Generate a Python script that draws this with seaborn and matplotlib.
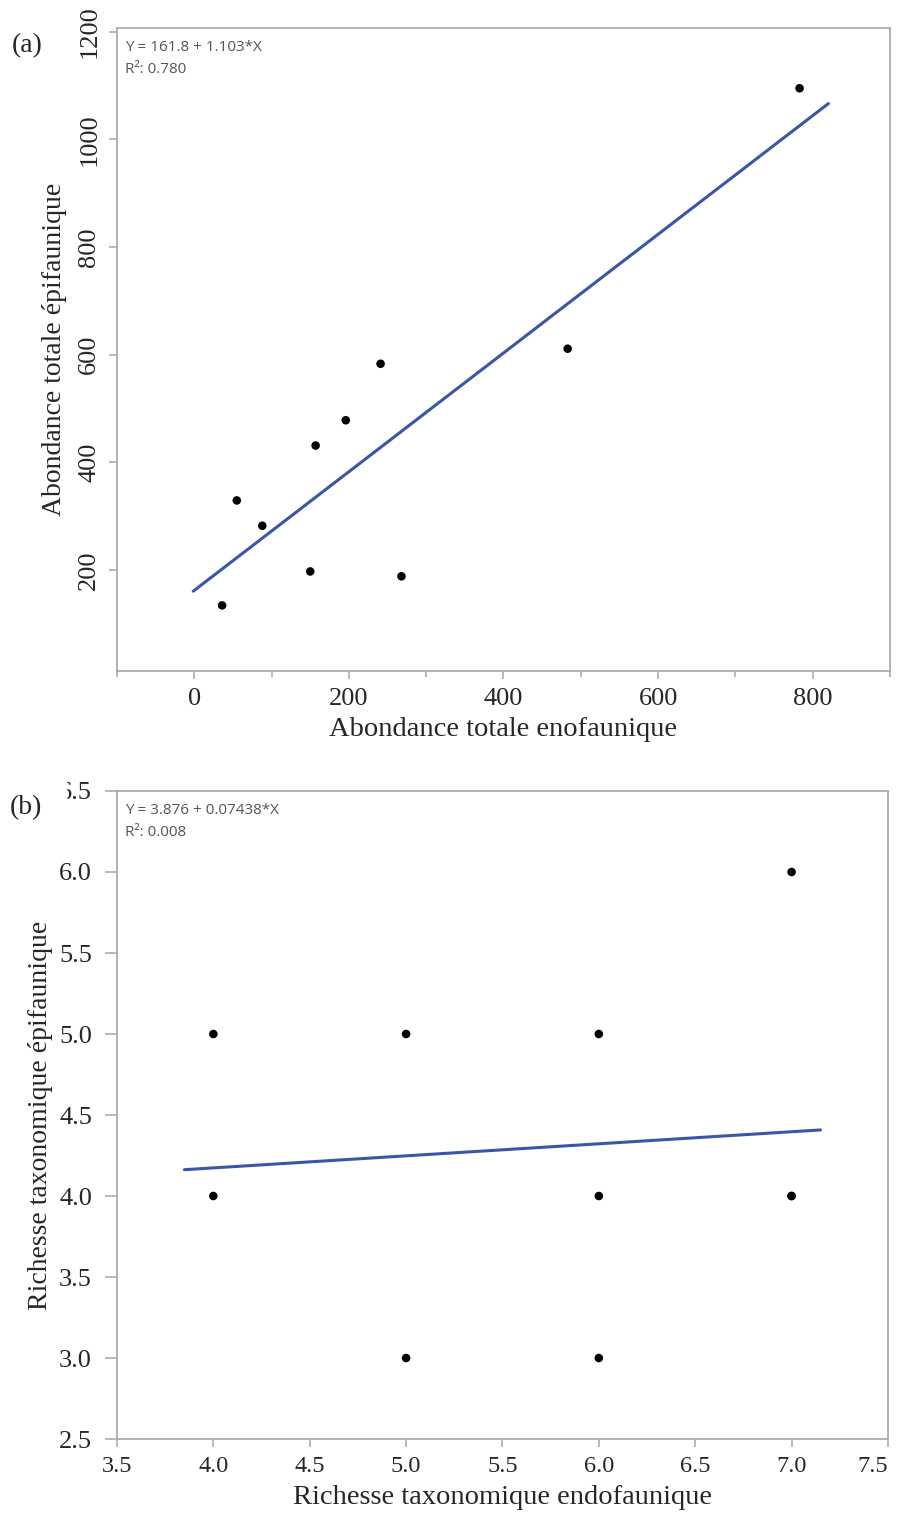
import numpy as np
import pandas as pd
import matplotlib
matplotlib.use("Agg")
import matplotlib.pyplot as plt
import seaborn as sns

# (a) abondance
abond_endo = [36, 55, 88, 150, 157, 196, 241, 268, 483, 783]
abond_epi = [134, 329, 282, 197, 431, 478, 583, 188, 611, 1095]

# (b) richesse (le point (7, 4) est double)
rich_endo = [4, 4, 5, 5, 6, 6, 6, 7, 7, 7]
rich_epi = [5, 4, 5, 3, 5, 4, 3, 6, 4, 4]

sns.set_style("white")
plt.rcParams['font.family'] = ['Liberation Serif', 'DejaVu Serif']

line_col = '#3857a5'
spine_col = '#a6a6a6'

fig = plt.figure(figsize=(8.97, 15.13), dpi=100)
ax1 = fig.add_axes([0.1304, 0.5565, 0.8618, 0.4250])
ax2 = fig.add_axes([0.1304, 0.0489, 0.8595, 0.4283])


def panel(ax, x, y, fmt):
    x = np.asarray(x, float)
    y = np.asarray(y, float)
    b, a = np.polyfit(x, y, 1)
    r2 = np.corrcoef(x, y)[0, 1] ** 2
    ext = 0.05 * (x.max() - x.min())
    xs = np.linspace(x.min() - ext, x.max() + ext, 50)
    sns.lineplot(x=xs, y=a + b * xs, ax=ax, color=line_col, lw=2.2)
    sns.scatterplot(x=x, y=y, ax=ax, color='black', s=38, edgecolor='none', zorder=3)
    ax.text(0.011, 0.982, fmt(a, b) + "\nR²: %.3f" % r2, transform=ax.transAxes,
            ha='left', va='top', fontsize=11, color='#555555',
            family=['Open Sans', 'DejaVu Sans'], linespacing=1.7)
    for s in ax.spines.values():
        s.set_color(spine_col)
        s.set_linewidth(1.2)
    ax.tick_params(direction='out', length=6, width=1.1, color=spine_col,
                   labelsize=19, pad=6, bottom=True, left=True)


panel(ax1, abond_endo, abond_epi, lambda a, b: "Y = %.1f + %.3f*X" % (a, b))
ax1.set_xlim(-100, 900)
ax1.set_ylim(12, 1207)
ax1.set_xticks([0, 200, 400, 600, 800])
ax1.set_xticks([-100, 100, 300, 500, 700, 900], minor=True)
ax1.tick_params(axis='x', which='minor', direction='out', length=4, width=1.1,
                color=spine_col, bottom=True)
ax1.set_yticks([200, 400, 600, 800, 1000, 1200])
plt.setp(ax1.get_yticklabels(), rotation=90, va='center')
ax1.set_xlabel("Abondance totale enofaunique", fontsize=20.5, labelpad=5)
ax1.set_ylabel("Abondance totale épifaunique", fontsize=20, labelpad=8)

panel(ax2, rich_endo, rich_epi, lambda a, b: "Y = %.3f + %.5f*X" % (a, b))
ax2.set_xlim(3.5, 7.5)
ax2.set_ylim(2.5, 6.5)
ax2.set_xticks(np.arange(3.5, 7.51, 0.5))
ax2.set_yticks(np.arange(2.5, 6.51, 0.5))
ax2.xaxis.set_major_formatter(matplotlib.ticker.FormatStrFormatter('%.1f'))
ax2.yaxis.set_major_formatter(matplotlib.ticker.FormatStrFormatter('%.1f'))
ax2.tick_params(axis='y', length=8.5, pad=9.5, labelsize=19)
ax2.tick_params(axis='x', labelsize=17.5)
ax2.get_xticklabels()[-1].set_ha('right')
ax2.set_xlabel("Richesse taxonomique endofaunique", fontsize=20.5, labelpad=6)
ax2.set_ylabel("Richesse taxonomique épifaunique", fontsize=20, labelpad=4)

fig.text(0.013, 0.970, "(a)", fontsize=20, ha='left', va='center')

# le "(b)" masque le debut du libelle 6.5 dans l'original
fig.patches.append(plt.Rectangle((0, 1 - 805 / 1513), 66 / 897, 30 / 1513,
                                 transform=fig.transFigure, color='white',
                                 zorder=10))
fig.text(0.011, 0.466, "(b)", fontsize=20, ha='left', va='center', zorder=11)

fig.savefig("out.png", dpi=100)
